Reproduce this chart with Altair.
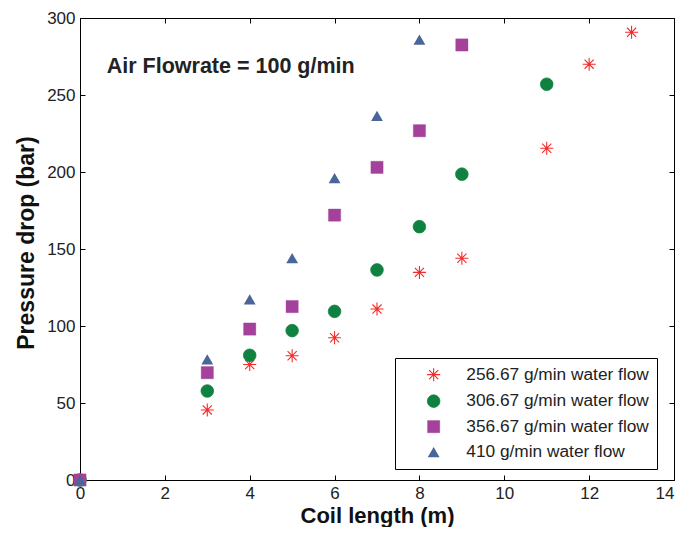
import altair as alt
import pandas as pd

FONT = "Liberation Sans, Arial, Helvetica, sans-serif"

series = [
    "256.67 g/min water flow",
    "306.67 g/min water flow",
    "356.67 g/min water flow",
    "410 g/min water flow",
]
x1 = [0, 3, 4, 5, 6, 7, 8, 9, 11, 12, 13]
y1 = [0, 45.5, 75, 80.7, 92.4, 111, 134.8, 144, 215.4, 270, 290.7]
x2 = [0, 3, 4, 5, 6, 7, 8, 9, 11]
y2 = [0, 57.8, 81, 97, 109.5, 136.4, 164.5, 198.6, 257]
x3 = [0, 3, 4, 5, 6, 7, 8, 9]
y3 = [0, 69.7, 98, 112.6, 172, 203, 226.8, 282.5]
x4 = [0, 3, 4, 5, 6, 7, 8]
y4 = [0, 78.3, 117.3, 144, 196, 236.4, 286]

x_ticks = [0, 2, 4, 6, 8, 10, 12, 14]
y_ticks = [0, 50, 100, 150, 200, 250, 300]

annotation = "Air Flowrate = 100 g/min"
ann_x = [0.63]
ann_y = [264.4]

colors = ["#f52a2a", "#0f8140", "#a3419b", "#4a6699"]
star = "M-1,0L1,0M0,-1L0,1M-0.7,-0.7L0.7,0.7M-0.7,0.7L0.7,-0.7"
shapes = [star, "circle", "square", "triangle-up"]
sizes = [170, 140, 148, 215]
widths = [1.1, 0, 0, 0]

rows = []
for name, xs, ys in zip(series, [x1, x2, x3, x4], [y1, y2, y3, y4]):
    for a, b in zip(xs, ys):
        rows.append({"series": name, "x": a, "y": b})
df = pd.DataFrame(rows)
ann = pd.DataFrame({"x": ann_x, "y": ann_y, "t": [annotation]})

xscale = alt.Scale(domain=[0, 14], nice=False, zero=False)
yscale = alt.Scale(domain=[0, 300], nice=False)
tick_in = alt.ExprRef(expr="-5")

common_axis = dict(grid=False, domainColor="black", domainWidth=1, tickColor="black",
                   tickWidth=1, tickSize=tick_in, labelFont=FONT, labelFontSize=17,
                   labelColor="#222222", titleFont=FONT, titleColor="#111111",
                   titleFontWeight="bold", labelFlush=False, labelOverlap=False)

leg = alt.Legend(title=None, orient="none", legendX=315, legendY=340,
                 strokeColor="black", fillColor="white", padding=8,
                 labelFont=FONT, labelFontSize=17.3, labelColor="#222222",
                 symbolOffset=22, labelOffset=24, rowPadding=7.5,
                 direction="vertical", labelLimit=400)

x_label_align = {"condition": {"test": "datum.value == 14", "value": "right"}, "value": "center"}

points = alt.Chart(df).mark_point(opacity=1, clip=False).encode(
    x=alt.X("x:Q", scale=xscale,
            axis=alt.Axis(orient="bottom", values=x_ticks, title="Coil length (m)",
                          labelPadding=10, titleFontSize=22, titleY=42.5,
                          titleBaseline="alphabetic", labelAlign=x_label_align,
                          **common_axis)),
    y=alt.Y("y:Q", scale=yscale,
            axis=alt.Axis(orient="left", values=y_ticks, title="Pressure drop (bar)",
                          labelPadding=10, titleFontSize=23, titleX=-47, titleY=224.5,
                          titleBaseline="alphabetic", **common_axis)),
    shape=alt.Shape("series:N", scale=alt.Scale(domain=series, range=shapes), legend=leg),
    fill=alt.Fill("series:N", scale=alt.Scale(domain=series, range=colors), legend=leg),
    stroke=alt.Stroke("series:N", scale=alt.Scale(domain=series, range=colors), legend=leg),
    size=alt.Size("series:N", scale=alt.Scale(domain=series, range=sizes), legend=leg),
    strokeWidth=alt.StrokeWidth("series:N", scale=alt.Scale(domain=series, range=widths), legend=leg),
)

text = alt.Chart(ann).mark_text(align="left", baseline="alphabetic", fontSize=21.5,
                                fontWeight="bold", font=FONT, color="#222222").encode(
    x=alt.X("x:Q", scale=xscale,
            axis=alt.Axis(orient="top", values=x_ticks, labels=False, title=None, **common_axis)),
    y=alt.Y("y:Q", scale=yscale,
            axis=alt.Axis(orient="right", values=y_ticks, labels=False, title=None, **common_axis)),
    text="t:N",
)

chart = alt.layer(points, text).resolve_axis(x="independent", y="independent").properties(
    width=594, height=462,
    padding={"left": 72, "top": 10, "right": 1, "bottom": 47},
    autosize=alt.AutoSizeParams(type="none"),
    background="white",
).configure_view(stroke=None)

chart.save("out.html", embed_options={"renderer": "svg", "actions": False})
